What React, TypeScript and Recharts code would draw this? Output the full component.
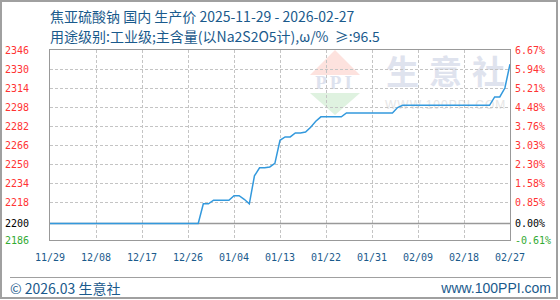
import * as React from 'react';
import {
  LineChart, Line, XAxis, YAxis, ReferenceLine
} from 'recharts';

// days since 2025-11-29, one value per day (元/吨)
const prices = [
  2200, 2200, 2200, 2200, 2200, 2200, 2200, 2200, 2200, 2200,
  2200, 2200, 2200, 2200, 2200, 2200, 2200, 2200, 2200, 2200,
  2200, 2200, 2200, 2200, 2200, 2200, 2200, 2200, 2200, 2200,
  2216.5, 2216.5, 2219.5, 2219.5, 2219.5, 2219.5, 2223.3, 2223.3, 2220.3, 2216.5,
  2240, 2246.8, 2246.8, 2247.5, 2250.5, 2270, 2272.8, 2272.8, 2276.2, 2276.2,
  2277, 2281, 2286, 2289.7, 2289.7, 2289.7, 2289.7, 2289.7, 2293, 2293,
  2293, 2293, 2293, 2293, 2293, 2293, 2293, 2293, 2297.5, 2299.4,
  2299.4, 2299.4, 2299.4, 2299.4, 2299.4, 2299.4, 2299.4, 2299.4, 2299.4, 2299.4,
  2299.4, 2299.4, 2299.4, 2299.4, 2299.4, 2299.4, 2299.4, 2306.5, 2306.5, 2314,
  2334,
];

const xTickDays = [0, 9, 18, 27, 36, 45, 54, 63, 72, 81, 90];
const xTickLabels = ['11/29', '12/08', '12/17', '12/26', '01/04', '01/13', '01/22', '01/31', '02/09', '02/18', '02/27'];

const yTicks = [2186, 2200, 2218, 2234, 2250, 2266, 2282, 2298, 2314, 2330, 2346];
const pctLabels = ['-0.61%', '0.00%', '0.85%', '1.58%', '2.30%', '3.03%', '3.76%', '4.48%', '5.21%', '5.94%', '6.67%'];

const BASE = 2200;
const Y_MIN = 2186;
const Y_MAX = 2346;
const X_MAX = 90;
const data = prices.map((price, day) => ({ day, price }));

// plot box (matches chart margins and axis widths below)
const PLOT = { left: 50, top: 50, width: 460, height: 190 };
const gx = (d: number) => Math.round(PLOT.left + (d / X_MAX) * PLOT.width) + 0.5;
const gy = (v: number) => Math.round(PLOT.top + PLOT.height - ((v - Y_MIN) / (Y_MAX - Y_MIN)) * PLOT.height) + 0.5;

const BLUE = '#1a5a8c';
const TICK_FONT = '"DejaVu Sans Mono", monospace';
const CJK_FONT = '"Noto Sans CJK SC", sans-serif';
const GRID = '#c4c4c4';

const tickColor = (v: number) => (v > BASE ? '#ff3333' : v < BASE ? '#33aa33' : '#000');

const LeftTick = (props: any) => {
  const { x, y, payload } = props;
  return (
    <text x={x - 21} y={y} dy="0.36em" textAnchor="end" fontSize={10} fontFamily={TICK_FONT} fill={tickColor(payload.value)}>
      {payload.value}
    </text>
  );
};

const RightTick = (props: any) => {
  const { x, y, payload } = props;
  const i = yTicks.indexOf(payload.value);
  return (
    <text x={x + 5} y={y} dy="0.36em" textAnchor="start" fontSize={10} fontFamily={TICK_FONT} fill={tickColor(payload.value)}>
      {pctLabels[i]}
    </text>
  );
};

const BottomTick = (props: any) => {
  const { x, y, payload } = props;
  const i = xTickDays.indexOf(payload.value);
  return (
    <text x={x} y={y + 21} textAnchor="middle" fontSize={10} fontFamily={TICK_FONT} fill={BLUE}>
      {xTickLabels[i]}
    </text>
  );
};

// watermark + dashed grid, drawn underneath the chart svg
const Backdrop = () => (
  <svg width={560} height={300} style={{ position: 'absolute', left: 0, top: 0 }}>
    <polygon points="335,50 310,75 360,75" fill="#fde2de" />
    <text x={335} y={89} textAnchor="middle" fontSize={19} fontWeight="bold" fontFamily="Liberation Serif, serif" fill="#dde2ee" letterSpacing={3}>PPI</text>
    <polygon points="310,93 360,93 335,115" fill="#dff2e0" />
    <text x={386} y={84} fontSize={33} fontWeight="bold" fontFamily={CJK_FONT} fill="#dfe3ee" letterSpacing={10}>生意社</text>
    <text x={385} y={109} fontSize={12} fontFamily="Liberation Sans, sans-serif" fill="#e6e6e6" letterSpacing={1}>WWW.100PPI.COM</text>
    {yTicks.filter(t => t !== BASE && t !== Y_MIN && t !== Y_MAX).map(t => (
      <line key={'h' + t} x1={PLOT.left} x2={PLOT.left + PLOT.width} y1={gy(t)} y2={gy(t)} stroke={GRID} strokeDasharray="3 2" />
    ))}
    {xTickDays.slice(1, -1).map(d => (
      <line key={'v' + d} x1={gx(d)} x2={gx(d)} y1={PLOT.top} y2={PLOT.top + PLOT.height} stroke={GRID} strokeDasharray="3 2" />
    ))}
  </svg>
);

const App: React.FunctionComponent = () => {
  return (
    <div style={{ position: 'absolute', left: 0, top: 0, width: 560, height: 300, background: '#fff', overflow: 'hidden' }}>
      <div style={{ position: 'absolute', left: 0, top: 0, width: 554, height: 295, border: '2px solid #a0a0a0' }} />
      <Backdrop />
      <div style={{ position: 'absolute', left: 50, top: 7, fontSize: 14, lineHeight: '18px', fontFamily: CJK_FONT, color: BLUE, whiteSpace: 'pre' }}>
        焦亚硫酸钠 国内 生产价 2025-11-29 - 2026-02-27
      </div>
      <div style={{ position: 'absolute', left: 50, top: 27, fontSize: 14, lineHeight: '18px', fontFamily: CJK_FONT, color: BLUE, whiteSpace: 'pre' }}>
        用途级别:工业级;主含量(以Na2S2O5计),ω/%  ≥:96.5
      </div>
      <div style={{ position: 'absolute', left: 0, top: 0 }}>
        <LineChart width={560} height={300} data={data} margin={{ top: 50, right: 0, bottom: 30, left: 0 }}>
          <XAxis
            dataKey="day"
            type="number"
            domain={[0, X_MAX]}
            ticks={xTickDays}
            height={30}
            axisLine={false}
            tickLine={false}
            tickSize={0}
            tickMargin={0}
            tick={<BottomTick />}
            interval={0}
          />
          <YAxis
            type="number"
            domain={[Y_MIN, Y_MAX]}
            ticks={yTicks}
            width={50}
            axisLine={false}
            tickLine={false}
            tickSize={0}
            tickMargin={0}
            tick={<LeftTick />}
            interval={0}
          />
          <YAxis
            yAxisId="right"
            orientation="right"
            type="number"
            domain={[Y_MIN, Y_MAX]}
            ticks={yTicks}
            width={50}
            axisLine={false}
            tickLine={false}
            tickSize={0}
            tickMargin={0}
            tick={<RightTick />}
            interval={0}
          />
          <ReferenceLine y={BASE} stroke="#999999" strokeWidth={1.5} />
          <Line
            yAxisId="right"
            type="linear"
            dataKey="price"
            stroke="none"
            dot={false}
            isAnimationActive={false}
          />
          <Line
            type="linear"
            dataKey="price"
            stroke="#3399dd"
            strokeWidth={1.5}
            dot={false}
            isAnimationActive={false}
          />
        </LineChart>
      </div>
      {/* plot frame */}
      <div style={{ position: 'absolute', left: 49, top: 49, width: 462, height: 192, boxSizing: 'border-box', border: '1.5px solid #999999', pointerEvents: 'none' }} />
      <div style={{ position: 'absolute', left: 10, top: 277, width: 541, height: 0, borderTop: '1px solid #a0a0a0' }} />
      <div style={{ position: 'absolute', left: 10, top: 279, fontSize: 14, lineHeight: '18px', fontFamily: CJK_FONT, color: BLUE }}>
        © 2026.03 生意社
      </div>
      <div style={{ position: 'absolute', right: 9, top: 279, fontSize: 14, lineHeight: '18px', fontFamily: 'Liberation Sans, sans-serif', color: BLUE }}>
        www.100PPI.com
      </div>
    </div>
  );
};

export default App;
